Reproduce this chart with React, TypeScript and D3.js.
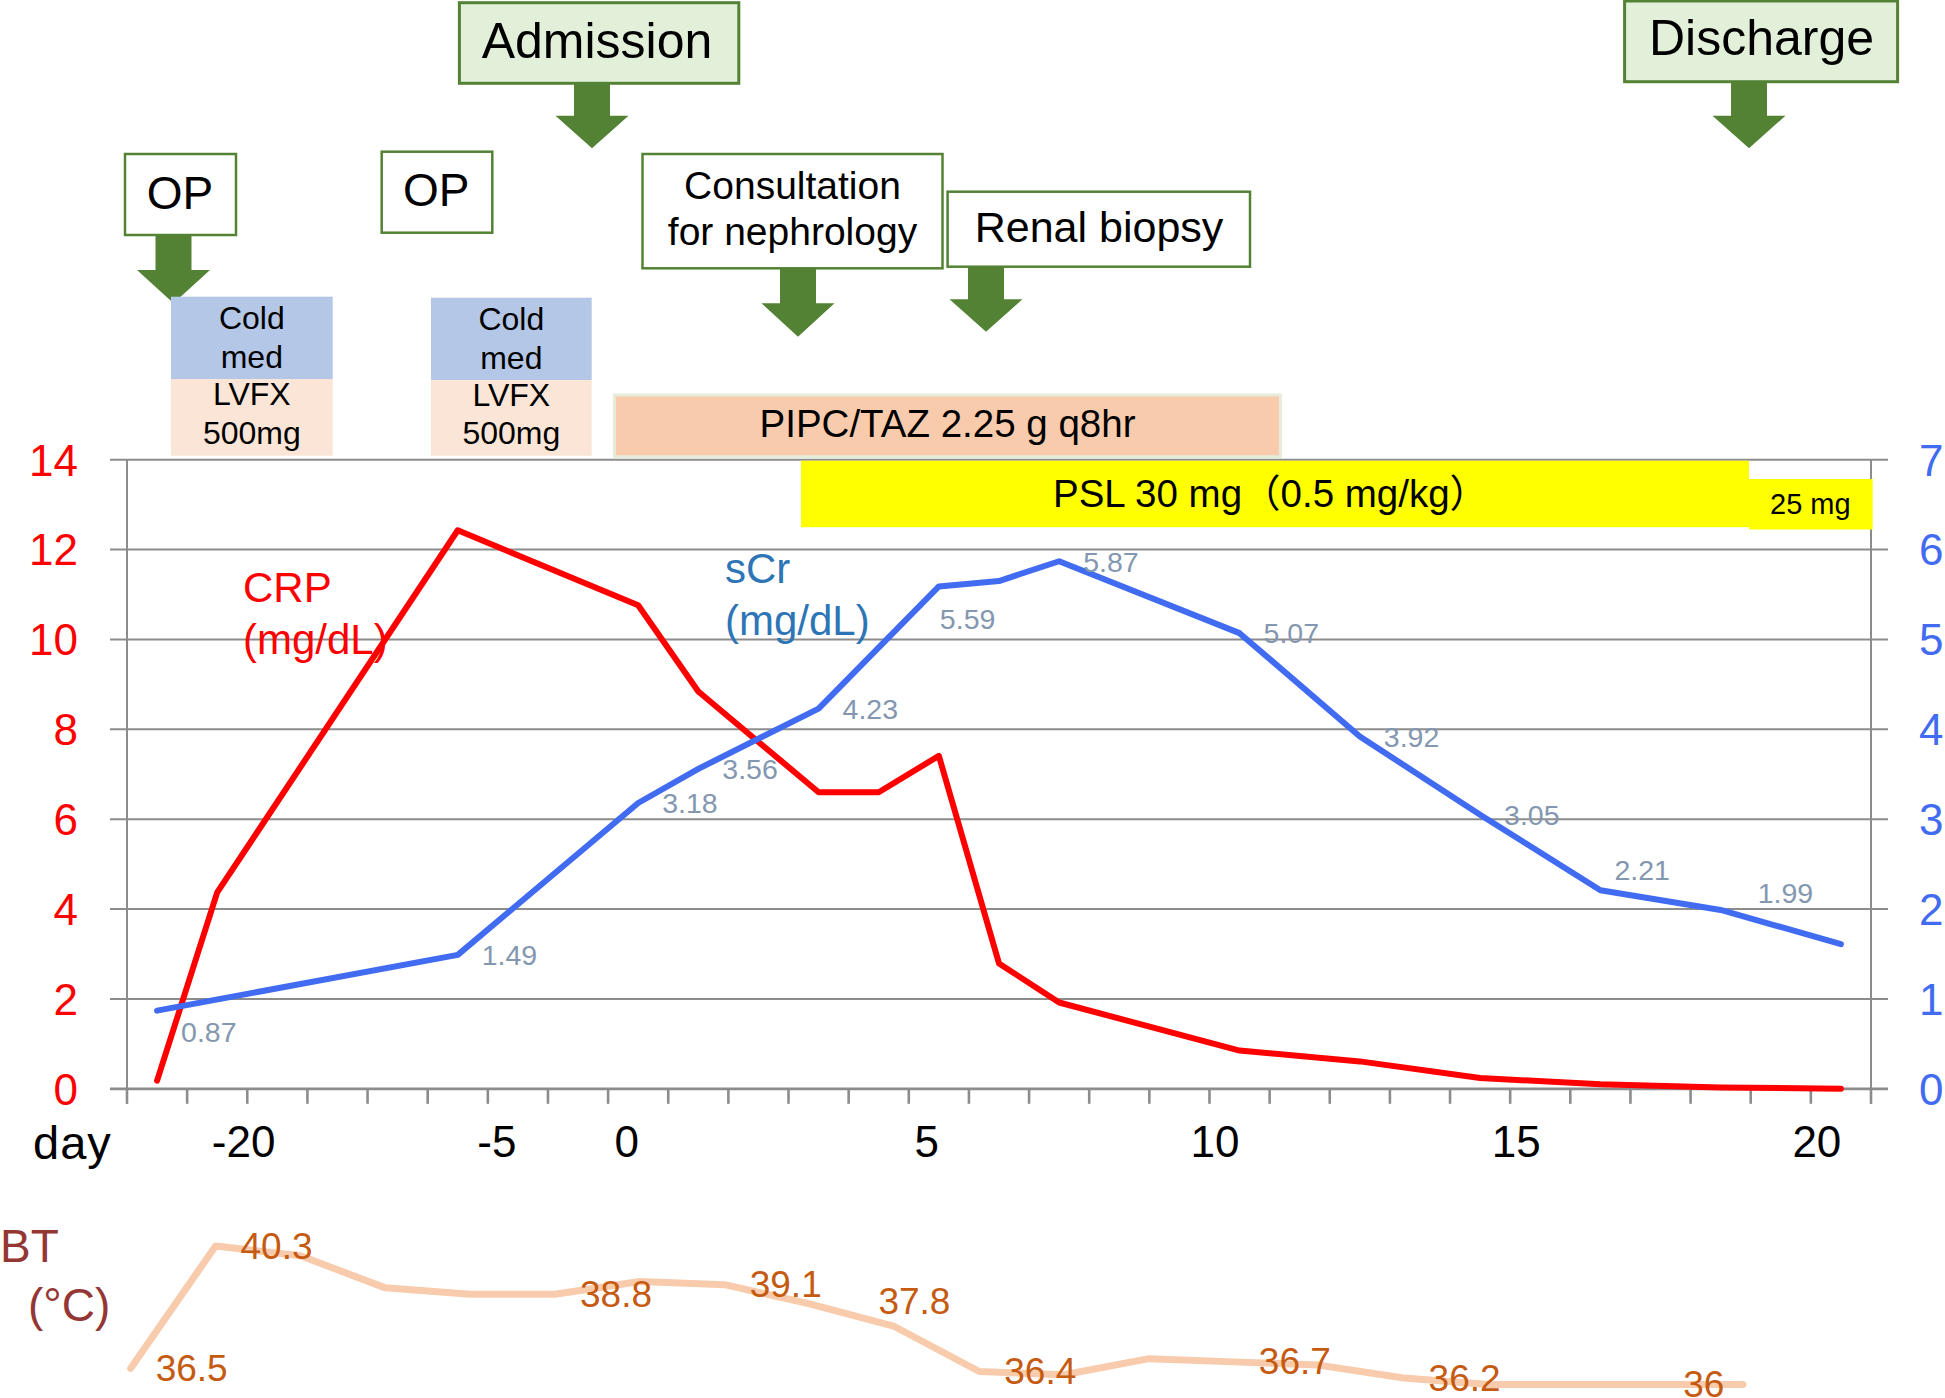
import React from 'react';
import * as d3 from 'd3';

const W = 1945;
const H = 1398;
const FONT = '"Liberation Sans", Arial, "Noto Sans CJK JP", sans-serif';

// ---------------- data ----------------
// main chart: 29 category slots on the day axis
const categories = d3.range(29);
const crpValues: (number | null)[] = [
  0.18, 4.37, null, null, null, 12.43, null, null, 10.76, 8.84, null, 6.6, 6.6, 7.41,
  2.79, 1.92, null, null, 0.85, null, 0.61, null, 0.24, null, 0.1, null, 0.03, null, 0.0,
];
const scrValues: (number | null)[] = [
  0.87, null, null, null, null, 1.49, null, null, 3.18, 3.56, null, 4.23, null, 5.59,
  5.65, 5.87, null, null, 5.07, null, 3.92, null, 3.05, null, 2.21, null, 1.99, null, 1.61,
];
const scrLabelIdx = [0, 5, 8, 9, 11, 13, 15, 18, 20, 22, 24, 26];
const leftTicks = [0, 2, 4, 6, 8, 10, 12, 14];
const rightTicks = [0, 1, 2, 3, 4, 5, 6, 7];
const dayLabels = ['-20', '-5', '0', '5', '10', '15', '20'];

// body temperature (separate strip)
const btValues = [
  36.5, 40.3, 40.0, 39.0, 38.8, 38.8, 39.2, 39.1, 38.5, 37.8,
  36.4, 36.3, 36.8, 36.7, 36.6, 36.2, 36.0, 36.0, 36.0, 36.0,
];
const btLabelIdx = [0, 1, 5, 7, 9, 10, 13, 15, 18];

// ---------------- layout (not data) ----------------
const dayLabelSlots = [1.94, 6.15, 8.31, 13.3, 18.09, 23.1, 28.1];
const scrLabelOffset: Record<number, [number, number]> = {
  0: [24, 21], 13: [1, 32], 24: [14, -20], 26: [37, -17],
};
const btLabelOffset: Record<number, [number, number]> = { 9: [-16, -25] };

const C = {
  green: '#548235',
  greenFill: '#E2F0D9',
  grid: '#8C8C8C',
  crp: '#FF0000',
  scr: '#416BF0',
  scrTitle: '#2E75B6',
  scrLabel: '#8497B0',
  bt: '#F8CBAD',
  btLabel: '#C55A11',
  btTitle: '#943634',
  cold: '#B4C7E7',
  lvfx: '#FBE5D6',
  pipc: '#F8CBAD',
  psl: '#FFFF00',
};

function arrowPath(cx: number, top: number, headY: number, tip: number, sw = 36, hw = 73) {
  return `M${cx - sw / 2},${top}L${cx + sw / 2},${top}L${cx + sw / 2},${headY}L${cx + hw / 2},${headY}L${cx},${tip}L${cx - hw / 2},${headY}L${cx - sw / 2},${headY}Z`;
}

export default function App() {
  const x = d3.scaleBand<number>().domain(categories).range([127, 1871]).paddingInner(0).paddingOuter(0);
  const bw = x.bandwidth();
  const cx = (i: number) => (x(i) as number) + bw / 2;
  const slotX = (s: number) => 127 + bw * s;
  const yL = d3.scaleLinear().domain([0, 14]).range([1088.8, 459.7]);
  const yR = d3.scaleLinear().domain([0, 7]).range([1088.8, 459.7]);

  const crpPts = categories.filter((i) => crpValues[i] != null).map((i) => [cx(i), yL(crpValues[i] as number)] as [number, number]);
  const scrPts = categories.filter((i) => scrValues[i] != null).map((i) => [cx(i), yR(scrValues[i] as number)] as [number, number]);
  const line = d3.line();

  const bx = d3.scalePoint<number>().domain(d3.range(btValues.length)).range([130.7, 1743]);
  const by = d3.scaleLinear().domain([36, 41]).range([1384.4, 1223.5]);
  const btPts = btValues.map((v, i) => [bx(i) as number, by(v)] as [number, number]);

  const x0 = 127, x1 = 1871, yBase = yL(0);
  const tickXs = d3.range(categories.length + 1).map((i) => x0 + bw * i);

  const box = (key: string, bx0: number, by0: number, w: number, h: number, fill: string, stroke: string, sw = 2.5) => (
    <rect key={key} x={bx0} y={by0} width={w} height={h} fill={fill} stroke={stroke} strokeWidth={sw} />
  );

  return (
    <svg width={W} height={H} viewBox={`0 0 ${W} ${H}`} style={{ position: 'absolute', left: 0, top: 0, background: '#fff' }} fontFamily={FONT}>
      <rect x={0} y={0} width={W} height={H} fill="#fff" />

      {/* gridlines */}
      {leftTicks.map((t) => (
        <line key={'g' + t} x1={110} x2={1888} y1={yL(t)} y2={yL(t)} stroke={C.grid} strokeWidth={t === 0 ? 2.8 : 2} />
      ))}
      <line x1={x0} x2={x0} y1={yL(14)} y2={yBase + 15} stroke={C.grid} strokeWidth={2} />
      <line x1={x1} x2={x1} y1={yL(14)} y2={yBase + 15} stroke={C.grid} strokeWidth={2} />
      {tickXs.map((tx, i) => (
        <line key={'t' + i} x1={tx} x2={tx} y1={yBase} y2={yBase + 15} stroke={C.grid} strokeWidth={2.6} />
      ))}

      {/* axis labels */}
      {leftTicks.map((t) => (
        <text key={'l' + t} x={78} y={yL(t)} dy="0.36em" textAnchor="end" fontSize={44} fill={C.crp}>{t}</text>
      ))}
      {rightTicks.map((t) => (
        <text key={'r' + t} x={1919} y={yR(t)} dy="0.36em" textAnchor="start" fontSize={44} fill={C.scr}>{t}</text>
      ))}
      <text x={33} y={1159} fontSize={47} fill="#000" letterSpacing={1}>day</text>
      {dayLabels.map((d, i) => (
        <text key={'d' + i} x={slotX(dayLabelSlots[i])} y={1157} textAnchor="middle" fontSize={44} fill="#000">{d}</text>
      ))}

      {/* top annotations */}
      {box('adm', 459.4, 2.7, 279.4, 80.6, C.greenFill, C.green, 3)}
      <text x={597} y={58} textAnchor="middle" fontSize={50} fill="#000">Admission</text>
      <path d={arrowPath(592, 83, 115.7, 148.3)} fill={C.green} />

      {box('dis', 1624.6, 1, 273, 80.7, C.greenFill, C.green, 3)}
      <text x={1761.5} y={55} textAnchor="middle" fontSize={50} fill="#000">Discharge</text>
      <path d={arrowPath(1749, 81.7, 115.7, 148.3)} fill={C.green} />

      {box('op1', 125, 154, 111, 81, '#fff', C.green)}
      <text x={180} y={209} textAnchor="middle" fontSize={46} fill="#000">OP</text>
      <path d={arrowPath(173.5, 235, 270, 303.3)} fill={C.green} />

      {box('op2', 381.7, 151.7, 110.6, 81, '#fff', C.green)}
      <text x={436.2} y={206} textAnchor="middle" fontSize={46} fill="#000">OP</text>

      {box('con', 642.5, 154, 300, 114.3, '#fff', C.green)}
      <text textAnchor="middle" fontSize={39} fill="#000">
        <tspan x={792.5} y={199}>Consultation</tspan>
        <tspan x={792.5} y={245}>for nephrology</tspan>
      </text>
      <path d={arrowPath(798, 268.3, 303.3, 336.7)} fill={C.green} />

      {box('ren', 947.6, 191.7, 302.4, 75, '#fff', C.green)}
      <text x={1099} y={241.7} textAnchor="middle" fontSize={43} fill="#000">Renal biopsy</text>
      <path d={arrowPath(986, 266.7, 299.3, 331.7)} fill={C.green} />

      {/* drug boxes */}
      <rect x={171} y={296.7} width={161.7} height={82.3} fill={C.cold} />
      <rect x={171} y={379} width={161.7} height={76.7} fill={C.lvfx} />
      <rect x={431} y={297.7} width={160.7} height={82.3} fill={C.cold} />
      <rect x={431} y={380} width={160.7} height={75.7} fill={C.lvfx} />
      {[251.8, 511.3].map((mx, i) => (
        <text key={'cm' + i} textAnchor="middle" fontSize={32} fill="#000">
          <tspan x={mx} y={328.5 + i}>Cold</tspan>
          <tspan x={mx} y={367.5 + i}>med</tspan>
          <tspan x={mx} y={405 + i * 0.5}>LVFX</tspan>
          <tspan x={mx} y={443.5}>500mg</tspan>
        </text>
      ))}

      <rect x={614.4} y={395} width={666} height={61.7} fill={C.pipc} stroke="#E6ECDA" strokeWidth={3} />
      <text x={947.5} y={436.7} textAnchor="middle" fontSize={38.5} fill="#000">PIPC/TAZ 2.25 g q8hr</text>

      <rect x={801} y={460.7} width={948} height={66.5} fill={C.psl} />
      <rect x={1749} y={479} width={123.7} height={50.5} fill={C.psl} />
      <text x={1053} y={506.6} fontSize={38.5} fill="#000">PSL 30 mg（0.5 mg/kg）</text>
      <text x={1770} y={513.5} fontSize={29} fill="#000">25 mg</text>

      {/* series titles */}
      <text fontSize={42} fill={C.crp}>
        <tspan x={243} y={601.5}>CRP</tspan>
        <tspan x={243} y={653.5}>(mg/dL)</tspan>
      </text>
      <text fontSize={42} fill={C.scrTitle}>
        <tspan x={725} y={582.5}>sCr</tspan>
        <tspan x={725} y={635}>(mg/dL)</tspan>
      </text>

      {/* series lines */}
      <path d={line(crpPts) as string} fill="none" stroke={C.crp} strokeWidth={6} strokeLinejoin="round" strokeLinecap="round" />
      <path d={line(scrPts) as string} fill="none" stroke={C.scr} strokeWidth={6} strokeLinejoin="round" strokeLinecap="round" />

      {/* sCr data labels */}
      {scrLabelIdx.map((i) => {
        const [dx, dy] = scrLabelOffset[i] ?? [24, 0];
        return (
          <text key={'sl' + i} x={cx(i) + dx} y={yR(scrValues[i] as number) + dy} dy="0.36em" fontSize={28.5} fill={C.scrLabel}>
            {String(scrValues[i])}
          </text>
        );
      })}

      {/* body temperature */}
      <text x={0} y={1261.7} fontSize={46} fill={C.btTitle}>BT</text>
      <text x={28} y={1321} fontSize={46} fill={C.btTitle}>(°C)</text>
      <path d={line(btPts) as string} fill="none" stroke={C.bt} strokeWidth={7} strokeLinejoin="round" strokeLinecap="round" />
      {btLabelIdx.map((i) => {
        const [dx, dy] = btLabelOffset[i] ?? [25, 0];
        return (
          <text key={'bl' + i} x={(bx(i) as number) + dx} y={by(btValues[i]) + dy} dy="0.34em" fontSize={37} fill={C.btLabel}>
            {String(btValues[i])}
          </text>
        );
      })}
    </svg>
  );
}
